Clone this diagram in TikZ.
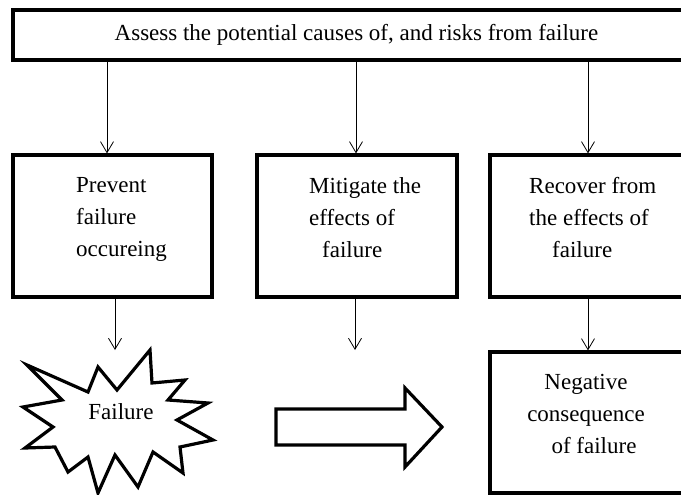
\documentclass[tikz,border=0pt]{standalone}
\usepackage{fontspec}
\setmainfont{Liberation Serif}
\usetikzlibrary{arrows.meta,positioning}

\begin{document}
\begin{tikzpicture}[
    x=1pt, y=-1pt,
    every node/.style={font=\fontsize{23}{32}\selectfont},
    blk/.style={draw, line width=3.5pt, inner sep=0pt, outer sep=0pt, minimum height=142pt},
    txt/.style={inner sep=0pt, align=left, anchor=north west},
    conn/.style={-{Straight Barb[length=11pt,width=13pt]}, line width=0.8pt, shorten >=1.6pt},
    shp/.style={draw, line width=3.2pt, line join=miter}
]
\useasboundingbox (0,0) rectangle (681,495);
\clip (0,0) rectangle (681,495);

% top box
\node[blk, minimum width=687pt, minimum height=50pt] (assess) at (356.5,35) {Assess the potential causes of, and risks from failure};

% three measures
\node[blk, minimum width=199pt] (prevent) at (112.5,226) {};
\node[blk, minimum width=200pt, right=45pt of prevent] (mitigate) {};
\node[blk, minimum width=210pt, right=33pt of mitigate] (recover) {};
\node[txt] (preventtxt) at (76,177.5) {Prevent\\failure\\occureing};
\node[txt] (mitigatetxt) at (309,177.5) {Mitigate the\\effects of\\\hspace*{13pt}failure};
\node[txt] (recovertxt) at (529,177.5) {Recover from\\the effects of\\\hspace*{23pt}failure};

% outcome
\node[blk, minimum width=210pt, minimum height=141pt, below=55pt of recover] (negative) {};
\node[inner sep=0pt, align=center, anchor=north] (negativetxt) at (586,374) {Negative\\consequence\\\hspace*{16pt}of failure};

% failure burst
\draw[shp] (27,365) -- (88,392) -- (98,367) -- (117,390) -- (150,350) -- (152,383)
    -- (185,380) -- (168,400) -- (208,403) -- (177,420) -- (213,440) -- (180,447)
    -- (183,473) -- (153,452) -- (138,487) -- (115,455) -- (98,493) -- (88,457)
    -- (68,472) -- (55,447) -- (25,448) -- (53,427) -- (23,407) -- (62,400) -- cycle;
\node (failtxt) at (121,412) {Failure};

% block arrow
\draw[shp] (276,409) -- (405,409) -- (405,388) -- (442,427) -- (405,467) -- (405,445) -- (276,445) -- cycle;

% connectors
\coordinate (a1) at (107,0);
\coordinate (a2) at (356,0);
\coordinate (a3) at (588,0);
\coordinate (f1) at (115,350);
\coordinate (f2) at (355,350);
\draw[conn] (assess.south -| a1) -- (prevent.north -| a1);
\draw[conn] (assess.south -| a2) -- (mitigate.north -| a2);
\draw[conn] (assess.south -| a3) -- (recover.north -| a3);
\draw[conn, shorten >=0pt] (prevent.south -| f1) -- (f1);
\draw[conn, shorten >=0pt] (mitigate.south -| f2) -- (f2);
\draw[conn] (recover.south -| a3) -- (negative.north -| a3);

\end{tikzpicture}
\end{document}
